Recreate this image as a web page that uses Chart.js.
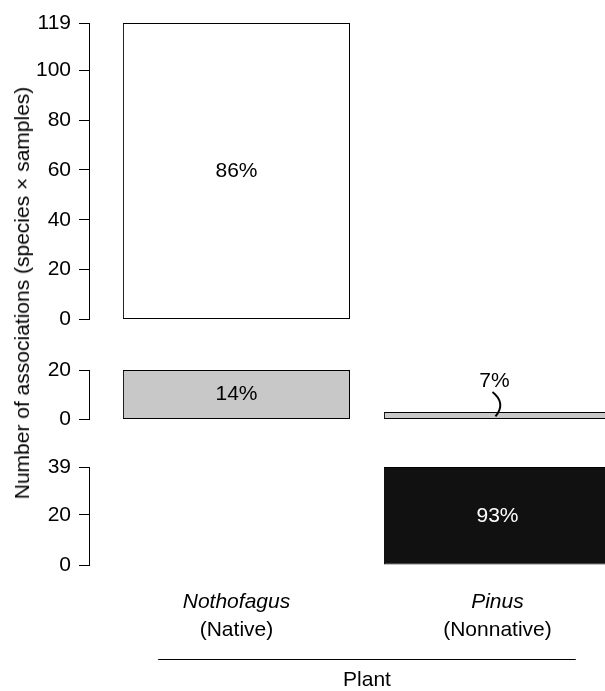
<!DOCTYPE html>
<html>
<head>
<meta charset="utf-8">
<script src="https://cdn.jsdelivr.net/npm/chart.js@4/dist/chart.umd.min.js"></script>
<style>
html, body { margin: 0; padding: 0; background: #fff; width: 605px; height: 691px; overflow: hidden; }
canvas { position: absolute; left: 0; }
#ytitle { position: absolute; left: 22px; top: 293px; transform: translate(-50%, -50%) rotate(-90deg);
  font: 21px "Liberation Sans", Arial, sans-serif; color: #000; white-space: nowrap; z-index: 5; }
</style>
</head>
<body>
<canvas id="cTop" width="605" height="340" style="top:0px"></canvas>
<canvas id="cMid" width="605" height="100" style="top:340px"></canvas>
<canvas id="cBot" width="605" height="251" style="top:440px"></canvas>
<div id="ytitle"></div>
<script>
// ---------- data ----------
const plants = ['Nothofagus', 'Pinus'];
const plantStatus = ['(Native)', '(Nonnative)'];
const plantPositions = [1, 2];
const nativeOnlyAssoc = [119, null];     // white panel (top)
const sharedAssoc = [20, 3];             // grey panel (middle)
const nonnativeOnlyAssoc = [null, 39];   // black panel (bottom)
const ticksTop = [0, 20, 40, 60, 80, 100, 119];
const ticksMid = [0, 20];
const ticksBot = [0, 20, 39];
const xAxisTitle = 'Plant';
const yAxisTitle = 'Number of associations (species × samples)';

// ---------- helpers ----------
const FONT = '"Liberation Sans", Arial, sans-serif';
const FS = 21;
document.getElementById('ytitle').textContent = yAxisTitle;

const totals = plants.map((p, i) =>
  [nativeOnlyAssoc, sharedAssoc, nonnativeOnlyAssoc].reduce((s, arr) => s + (arr[i] || 0), 0));
const pct = (v, i) => Math.round(v / totals[i] * 100) + '%';

const X_MIN = 0.435, X_MAX = 2.412;

const pctLabelPlugin = {
  id: 'pctLabels',
  afterDatasetsDraw(chart) {
    const ctx = chart.ctx;
    const meta = chart.getDatasetMeta(0);
    const values = chart.data.datasets[0].data;
    const color = chart.options.plugins.pctLabels.color;
    ctx.save();
    ctx.font = FS + 'px ' + FONT;
    ctx.textAlign = 'center';
    ctx.textBaseline = 'middle';
    meta.data.forEach((el, i) => {
      const v = values[i].y;
      if (v === null || v === undefined) return;
      const p = el.getProps(['x', 'y', 'base'], true);
      const h = p.base - p.y;
      const txt = pct(v, i);
      if (h > 26) {
        ctx.fillStyle = color;
        ctx.fillText(txt, p.x, (p.y + p.base) / 2);
      } else {
        const tx = p.x - 3, ty = p.y - 31;
        ctx.fillStyle = '#000';
        ctx.fillText(txt, tx, ty);
        ctx.beginPath();
        ctx.lineWidth = 2;
        ctx.strokeStyle = '#000';
        ctx.moveTo(tx - 2, ty + 11);
        ctx.quadraticCurveTo(tx + 12, ty + 22, tx + 1, (p.y + p.base) / 2 + 1);
        ctx.stroke();
      }
    });
    ctx.restore();
  }
};

const xLabelPlugin = {
  id: 'xLabels',
  afterDraw(chart) {
    if (!chart.options.plugins.xLabels.show) return;
    const ctx = chart.ctx;
    const xs = chart.scales.x;
    const b = chart.chartArea.bottom;
    ctx.save();
    ctx.fillStyle = '#000';
    ctx.textAlign = 'center';
    ctx.textBaseline = 'middle';
    plants.forEach((p, i) => {
      const x = xs.getPixelForValue(plantPositions[i]);
      ctx.font = 'italic ' + FS + 'px ' + FONT;
      ctx.fillText(p, x, b + 37);
      ctx.font = FS + 'px ' + FONT;
      ctx.fillText(plantStatus[i], x, b + 65);
    });
    ctx.beginPath();
    ctx.lineWidth = 1;
    ctx.strokeStyle = '#000';
    ctx.moveTo(xs.getPixelForValue(0.7), Math.round(b + 94) + 0.5);
    ctx.lineTo(xs.getPixelForValue(2.3), Math.round(b + 94) + 0.5);
    ctx.stroke();
    ctx.font = FS + 'px ' + FONT;
    ctx.fillText(xAxisTitle, xs.getPixelForValue(1.5), b + 115);
    ctx.restore();
  }
};

function makePanel(id, values, fill, ticks, padTop, padBottom, labelColor, showX) {
  return new Chart(document.getElementById(id), {
    type: 'bar',
    data: {
      datasets: [{
        data: plantPositions.map((x, i) => ({ x: x, y: values[i] })),
        backgroundColor: fill,
        borderColor: '#000',
        borderWidth: 1,
        borderSkipped: false,
        barPercentage: 0.87,
        categoryPercentage: 1
      }]
    },
    options: {
      responsive: false,
      animation: false,
      events: [],
      layout: { padding: { top: padTop, bottom: padBottom, left: 0, right: 0 } },
      plugins: {
        legend: { display: false },
        tooltip: { enabled: false },
        pctLabels: { color: labelColor },
        xLabels: { show: showX }
      },
      scales: {
        x: {
          type: 'linear', display: false, offset: false, min: X_MIN, max: X_MAX,
          grid: { offset: false },
          ticks: { stepSize: 1, includeBounds: false }
        },
        y: {
          min: 0, max: ticks[ticks.length - 1],
          afterBuildTicks: s => { s.ticks = ticks.map(v => ({ value: v })); },
          afterFit: s => { s.width = 89; },
          ticks: { color: '#000', font: { family: FONT, size: FS }, padding: 8, autoSkip: false },
          grid: { drawOnChartArea: false, drawTicks: true, tickLength: 10, color: '#000', lineWidth: 1 },
          border: { display: true, color: '#000', width: 1 }
        }
      }
    },
    plugins: [pctLabelPlugin, xLabelPlugin]
  });
}

makePanel('cTop', nativeOnlyAssoc, '#ffffff', ticksTop, 23, 18, '#000', false);
makePanel('cMid', sharedAssoc, '#c8c8c8', ticksMid, 30, 20, '#000', false);
makePanel('cBot', nonnativeOnlyAssoc, '#111111', ticksBot, 27, 126, '#fff', true);
</script>
</body>
</html>
